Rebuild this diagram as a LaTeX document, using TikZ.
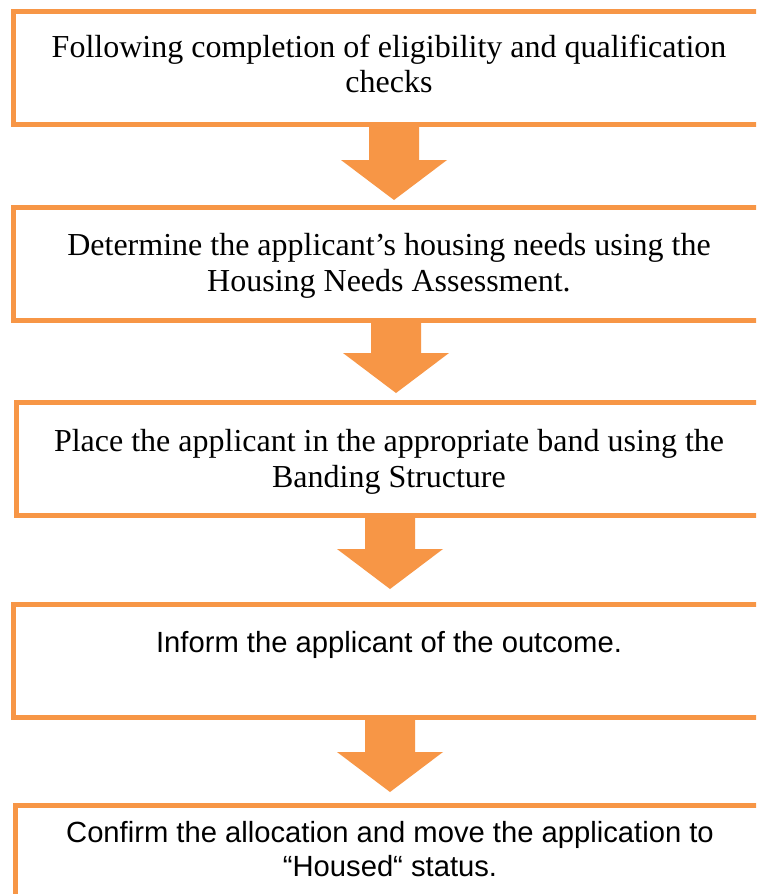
\documentclass[tikz,border=0pt]{standalone}
\usepackage{fontspec}
\setmainfont{Liberation Serif}
\newfontfamily\arialf{Liberation Sans}
\definecolor{orangeC}{HTML}{F79646}
\tikzset{
  box/.style={draw=orangeC, line width=5pt, rectangle, inner sep=0pt, anchor=north west, minimum width=756pt},
  seriftext/.style={font=\fontsize{32}{35.5}\selectfont, align=center, inner sep=0pt, anchor=base},
  sanstext/.style={font=\arialf\fontsize{29.2}{33.5}\selectfont, align=center, inner sep=0pt, anchor=base},
  downarrow/.pic={\fill[orangeC] (0,0) -- (-53,-40) -- (-25,-40) -- (-25,-75) -- (25,-75) -- (25,-40) -- (53,-40) -- cycle;}
}
\begin{document}
\begin{tikzpicture}[x=1pt,y=-1pt]
\useasboundingbox (0,0) rectangle (756,894);
\clip (0,0) rectangle (756,894);
\fill[white] (0,0) rectangle (756,894);
% boxes
\node[box, minimum height=113pt] (b1) at (11,8.5) {};
\node[box, minimum height=113pt] (b2) at (10.5,205) {};
\node[box, minimum height=113.5pt] (b3) at (13.5,399.5) {};
\node[box, minimum height=112.5pt] (b4) at (10.5,602) {};
\node[box, minimum height=92.5pt] (b5) at (12.5,803) {};
% texts
\node[seriftext] (t1) at (389,92.5) {Following completion of eligibility and qualification\\checks};
\node[seriftext] (t2) at (389,291) {Determine the applicant’s housing needs using the\\Housing Needs Assessment.};
\node[seriftext] (t3) at (389,487) {Place the applicant in the appropriate band using the\\Banding Structure};
\node[sanstext] (t4) at (389,652) {Inform the applicant of the outcome.};
\node[sanstext] (t5) at (390,876) {Confirm the allocation and move the application to\\“Housed“ status.};
% block arrows
\pic at (394,200) {downarrow};
\pic at (396,393) {downarrow};
\pic at (390,589) {downarrow};
\pic at (390,792) {downarrow};
\end{tikzpicture}
\end{document}
